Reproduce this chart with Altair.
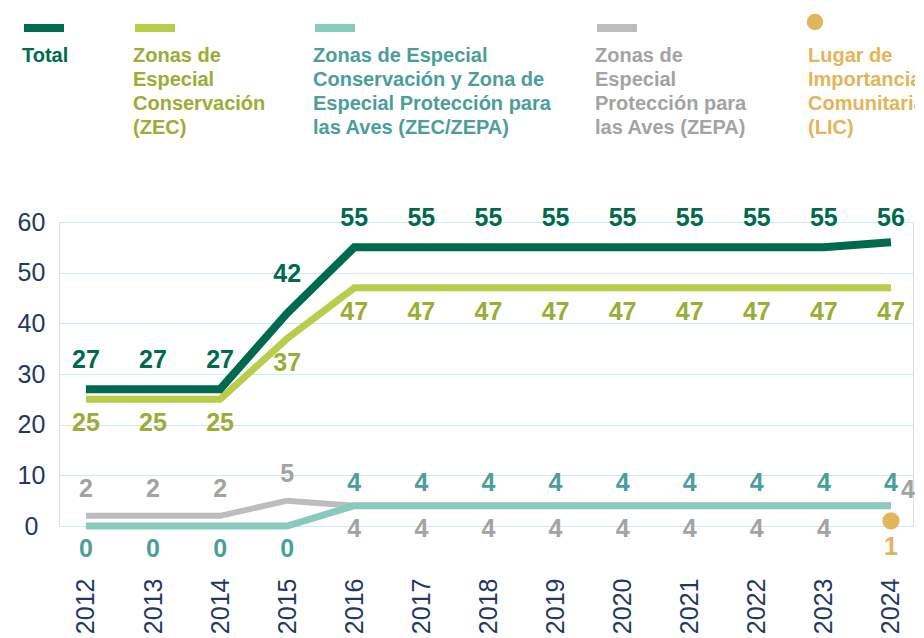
import altair as alt
import pandas as pd

years = [str(y) for y in range(2012, 2025)]
total = [27, 27, 27, 42, 55, 55, 55, 55, 55, 55, 55, 55, 56]
zec = [25, 25, 25, 37, 47, 47, 47, 47, 47, 47, 47, 47, 47]
zec_zepa = [0, 0, 0, 0, 4, 4, 4, 4, 4, 4, 4, 4, 4]
zepa = [2, 2, 2, 5, 4, 4, 4, 4, 4, 4, 4, 4, 4]
lic_years = ["2024"]
lic = [1]

series_names = ["Total", "ZEC", "ZEC/ZEPA", "ZEPA", "LIC"]
legend_labels = [
    "Total",
    "Zonas de\nEspecial\nConservación\n(ZEC)",
    "Zonas de Especial\nConservación y Zona de\nEspecial Protección para\nlas Aves (ZEC/ZEPA)",
    "Zonas de\nEspecial\nProtección para\nlas Aves (ZEPA)",
    "Lugar de\nImportancia\nComunitaria\n(LIC)",
]
line_colors = ["#006a4e", "#b9cd4a", "#88cabe", "#bdbdbf", "#e0b85a"]
text_colors = ["#006a4e", "#9aad35", "#4b9e9a", "#a3a3a3", "#e2b55a"]
y_ticks = [0, 10, 20, 30, 40, 50, 60]

rows = []
for name, vals, yrs in [("Total", total, years), ("ZEC", zec, years),
                        ("ZEC/ZEPA", zec_zepa, years), ("ZEPA", zepa, years),
                        ("LIC", lic, lic_years)]:
    for yv, v in zip(yrs, vals):
        rows.append({"series": name, "year": yv, "value": v})
df = pd.DataFrame(rows)
legend_df = pd.DataFrame({"series": series_names, "label": legend_labels,
                          "idx": list(range(len(series_names)))})

FONT = "Liberation Sans, Arial, sans-serif"
NAVY = "#1f3864"
col = dict(zip(series_names, line_colors))
tcol = dict(zip(series_names, text_colors))

x_enc = alt.X("year:O", scale=alt.Scale(type="point", padding=0.365, align=0.55),
              axis=alt.Axis(title=None, labelAngle=270, domain=False, ticks=False,
                            tickSize=0, labelPadding=52, labelFontSize=25,
                            labelColor=NAVY, labelFont=FONT, grid=False))
y_enc = alt.Y("value:Q", scale=alt.Scale(domain=[0, 60], nice=False),
              axis=alt.Axis(title=None, values=y_ticks, domain=False, ticks=False,
                            tickSize=0, labelPadding=28, labelAlign="center",
                            labelFontSize=25, labelColor=NAVY, labelFont=FONT,
                            grid=True, gridColor="#cfe8f6", gridWidth=1))

base = alt.Chart(df).encode(x=x_enc, y=y_enc)


def sel(s, yrs=None):
    c = base.transform_filter(alt.datum.series == s)
    if yrs is not None:
        c = c.transform_filter(alt.FieldOneOfPredicate(field="year", oneOf=yrs))
    return c


main_layers = []
for s, w in [("ZEPA", 6), ("ZEC/ZEPA", 7), ("ZEC", 7), ("Total", 8)]:
    main_layers.append(sel(s).mark_line(color=col[s], strokeWidth=w, strokeCap="butt",
                                        strokeJoin="miter"))
main_layers.append(sel("LIC").mark_circle(color=col["LIC"], size=300, opacity=1))


def lab(s, yrs, dy, dx=0):
    return sel(s, yrs).mark_text(font=FONT, fontSize=25, fontWeight="bold",
                                 color=tcol[s], baseline="middle", align="center",
                                 dy=dy, dx=dx).encode(text="value:Q")


main_layers += [
    lab("Total", years[:3] + years[4:12], -29),
    lab("Total", ["2015"], -39),
    lab("Total", ["2024"], -24),
    lab("ZEC", years, 24),
    lab("ZEC/ZEPA", years[:4], 23),
    lab("ZEC/ZEPA", years[4:], -23),
    lab("ZEPA", years[:4], -27),
    lab("ZEPA", years[4:12], 23),
    lab("ZEPA", ["2024"], -16, 17),
    lab("LIC", lic_years, 26),
]

leg_x = alt.X("idx:Q", scale=alt.Scale(domain=[0, 1, 2, 3, 4],
                                        range=[-37, 74, 254, 536, 749]), axis=None)
leg = alt.Chart(legend_df).encode(x=leg_x)
legend_layers = [
    leg.transform_filter(alt.datum.series != "LIC").mark_tick(
        orient="horizontal", size=40, thickness=8, xOffset=22, opacity=1
    ).encode(y=alt.value(-194),
             fill=alt.Fill("series:N", scale=alt.Scale(domain=series_names, range=line_colors),
                           legend=None)),
    leg.transform_filter(alt.datum.series == "LIC").mark_circle(
        size=270, xOffset=7, opacity=1, color=col["LIC"]
    ).encode(y=alt.value(-200)),
    leg.mark_text(align="left", baseline="top", lineBreak="\n", lineHeight=24,
                  font=FONT, fontSize=20, fontWeight="bold").encode(
        y=alt.value(-176), text="label:N",
        color=alt.Color("series:N", scale=alt.Scale(domain=series_names, range=text_colors),
                        legend=None)),
]

chart = alt.layer(alt.layer(*main_layers), alt.layer(*legend_layers)).resolve_scale(
    x="independent"
).properties(
    width=854, height=304,
    padding={"left": 51, "top": 214, "right": 2, "bottom": 108},
    autosize=alt.AutoSizeParams(type="none"),
).configure_view(stroke=None).configure(background="white")

chart.save("out.html", embed_options={"renderer": "svg", "actions": False})
